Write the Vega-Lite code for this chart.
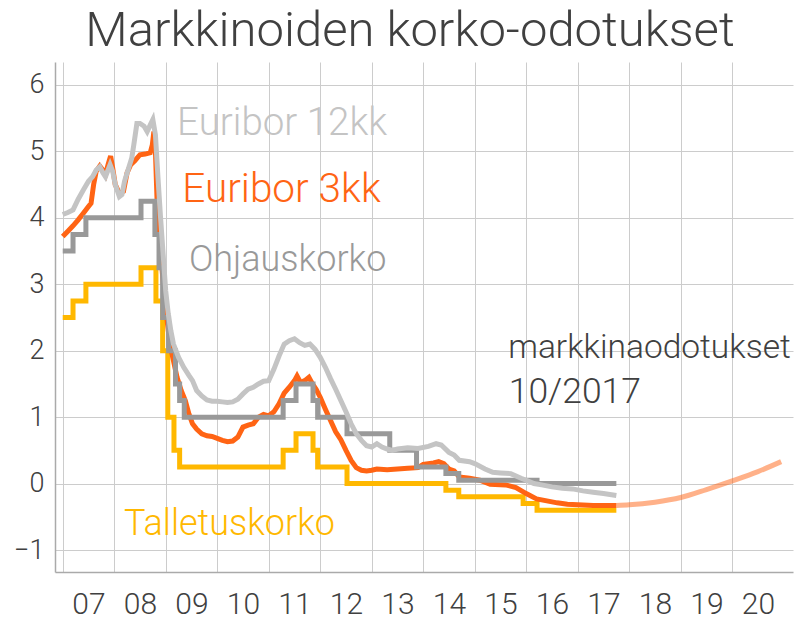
{
  "$schema": "https://vega.github.io/schema/vega-lite/v6.json",
  "width": 738,
  "height": 510,
  "autosize": {"type": "none"},
  "padding": {"left": 55, "top": 62, "right": 3, "bottom": 51},
  "background": "white",
  "config": {
    "view": {"stroke": null},
    "font": "Roboto",
    "axis": {"labelFont": "Roboto", "labelFontWeight": 300, "labelColor": "#404040", "gridColor": "#cccccc", "gridWidth": 1, "domainColor": "#aaaaaa", "domainWidth": 1.5, "ticks": false, "title": null}
  },
  "title": {"text": "Markkinoiden korko-odotukset", "fontSize": 49, "font": "Roboto", "fontWeight": 300, "color": "#404040", "anchor": "middle", "frame": "group", "offset": 6, "dx": -14},
  "datasets": {
    "ohjaus": [
      {"t": 2007.0, "v": 3.5}, {"t": 2007.2, "v": 3.75}, {"t": 2007.45, "v": 4.0}, {"t": 2008.52, "v": 4.25},
      {"t": 2008.79, "v": 3.75}, {"t": 2008.87, "v": 3.25}, {"t": 2008.94, "v": 2.5}, {"t": 2009.055, "v": 2.0},
      {"t": 2009.19, "v": 1.5}, {"t": 2009.27, "v": 1.25}, {"t": 2009.36, "v": 1.0}, {"t": 2011.28, "v": 1.25},
      {"t": 2011.53, "v": 1.5}, {"t": 2011.86, "v": 1.25}, {"t": 2011.95, "v": 1.0}, {"t": 2012.52, "v": 0.75},
      {"t": 2013.35, "v": 0.5}, {"t": 2013.87, "v": 0.25}, {"t": 2014.44, "v": 0.15}, {"t": 2014.69, "v": 0.05},
      {"t": 2016.21, "v": 0.0}, {"t": 2017.75, "v": 0.0}
    ],
    "talletus": [
      {"t": 2007.0, "v": 2.5}, {"t": 2007.2, "v": 2.75}, {"t": 2007.45, "v": 3.0}, {"t": 2008.52, "v": 3.25},
      {"t": 2008.81, "v": 2.75}, {"t": 2008.94, "v": 2.0}, {"t": 2009.04, "v": 1.0}, {"t": 2009.16, "v": 0.5},
      {"t": 2009.27, "v": 0.25}, {"t": 2011.28, "v": 0.5}, {"t": 2011.53, "v": 0.75}, {"t": 2011.86, "v": 0.5},
      {"t": 2011.95, "v": 0.25}, {"t": 2012.52, "v": 0.0}, {"t": 2014.44, "v": -0.1}, {"t": 2014.69, "v": -0.2},
      {"t": 2015.94, "v": -0.3}, {"t": 2016.21, "v": -0.4}, {"t": 2017.75, "v": -0.4}
    ],
    "e3": [
      {"t": 2007.0, "v": 3.72}, {"t": 2007.1, "v": 3.8}, {"t": 2007.2, "v": 3.88}, {"t": 2007.3, "v": 3.97},
      {"t": 2007.4, "v": 4.07}, {"t": 2007.5, "v": 4.17}, {"t": 2007.55, "v": 4.22}, {"t": 2007.6, "v": 4.5},
      {"t": 2007.65, "v": 4.7}, {"t": 2007.72, "v": 4.78}, {"t": 2007.78, "v": 4.72}, {"t": 2007.83, "v": 4.65},
      {"t": 2007.88, "v": 4.8}, {"t": 2007.93, "v": 4.93}, {"t": 2007.97, "v": 4.75}, {"t": 2008.02, "v": 4.5},
      {"t": 2008.1, "v": 4.37}, {"t": 2008.18, "v": 4.4}, {"t": 2008.25, "v": 4.68}, {"t": 2008.32, "v": 4.8},
      {"t": 2008.4, "v": 4.86}, {"t": 2008.5, "v": 4.95}, {"t": 2008.6, "v": 4.96}, {"t": 2008.7, "v": 4.98},
      {"t": 2008.74, "v": 5.1}, {"t": 2008.77, "v": 5.3}, {"t": 2008.8, "v": 5.0}, {"t": 2008.83, "v": 4.3},
      {"t": 2008.87, "v": 3.8}, {"t": 2008.92, "v": 3.3}, {"t": 2008.97, "v": 2.85}, {"t": 2009.02, "v": 2.5},
      {"t": 2009.08, "v": 2.1}, {"t": 2009.15, "v": 1.85}, {"t": 2009.22, "v": 1.6}, {"t": 2009.3, "v": 1.4},
      {"t": 2009.38, "v": 1.25}, {"t": 2009.45, "v": 1.05}, {"t": 2009.52, "v": 0.9}, {"t": 2009.6, "v": 0.82},
      {"t": 2009.7, "v": 0.75}, {"t": 2009.8, "v": 0.72}, {"t": 2009.9, "v": 0.71}, {"t": 2010.0, "v": 0.68},
      {"t": 2010.1, "v": 0.65}, {"t": 2010.2, "v": 0.63}, {"t": 2010.3, "v": 0.64}, {"t": 2010.4, "v": 0.7},
      {"t": 2010.5, "v": 0.85}, {"t": 2010.6, "v": 0.88}, {"t": 2010.7, "v": 0.9}, {"t": 2010.8, "v": 1.0},
      {"t": 2010.9, "v": 1.04}, {"t": 2011.0, "v": 1.02}, {"t": 2011.1, "v": 1.08}, {"t": 2011.2, "v": 1.2},
      {"t": 2011.3, "v": 1.36}, {"t": 2011.4, "v": 1.45}, {"t": 2011.5, "v": 1.55}, {"t": 2011.55, "v": 1.62},
      {"t": 2011.62, "v": 1.52}, {"t": 2011.7, "v": 1.55}, {"t": 2011.78, "v": 1.6}, {"t": 2011.85, "v": 1.5},
      {"t": 2011.92, "v": 1.42}, {"t": 2012.0, "v": 1.3}, {"t": 2012.1, "v": 1.12}, {"t": 2012.2, "v": 0.95},
      {"t": 2012.3, "v": 0.78}, {"t": 2012.4, "v": 0.66}, {"t": 2012.5, "v": 0.5}, {"t": 2012.6, "v": 0.35},
      {"t": 2012.7, "v": 0.24}, {"t": 2012.8, "v": 0.2}, {"t": 2012.9, "v": 0.19}, {"t": 2013.0, "v": 0.2},
      {"t": 2013.1, "v": 0.22}, {"t": 2013.3, "v": 0.21}, {"t": 2013.5, "v": 0.22}, {"t": 2013.7, "v": 0.23},
      {"t": 2013.9, "v": 0.24}, {"t": 2014.0, "v": 0.29}, {"t": 2014.2, "v": 0.31}, {"t": 2014.3, "v": 0.33},
      {"t": 2014.4, "v": 0.3}, {"t": 2014.5, "v": 0.22}, {"t": 2014.6, "v": 0.19}, {"t": 2014.7, "v": 0.1},
      {"t": 2014.9, "v": 0.08}, {"t": 2015.1, "v": 0.05}, {"t": 2015.3, "v": -0.01}, {"t": 2015.6, "v": -0.02},
      {"t": 2015.8, "v": -0.06}, {"t": 2016.0, "v": -0.15}, {"t": 2016.2, "v": -0.23}, {"t": 2016.4, "v": -0.26},
      {"t": 2016.6, "v": -0.29}, {"t": 2016.8, "v": -0.31}, {"t": 2017.0, "v": -0.32}, {"t": 2017.3, "v": -0.33},
      {"t": 2017.75, "v": -0.33}
    ],
    "e12": [
      {"t": 2007.0, "v": 4.05}, {"t": 2007.1, "v": 4.08}, {"t": 2007.2, "v": 4.12}, {"t": 2007.3, "v": 4.28},
      {"t": 2007.4, "v": 4.42}, {"t": 2007.5, "v": 4.55}, {"t": 2007.58, "v": 4.62}, {"t": 2007.65, "v": 4.72},
      {"t": 2007.72, "v": 4.77}, {"t": 2007.78, "v": 4.68}, {"t": 2007.83, "v": 4.62}, {"t": 2007.88, "v": 4.72},
      {"t": 2007.92, "v": 4.8}, {"t": 2007.97, "v": 4.7}, {"t": 2008.02, "v": 4.5}, {"t": 2008.1, "v": 4.32},
      {"t": 2008.15, "v": 4.35}, {"t": 2008.2, "v": 4.55}, {"t": 2008.28, "v": 4.75}, {"t": 2008.34, "v": 4.9},
      {"t": 2008.38, "v": 5.1}, {"t": 2008.44, "v": 5.42}, {"t": 2008.5, "v": 5.42}, {"t": 2008.58, "v": 5.38},
      {"t": 2008.64, "v": 5.3}, {"t": 2008.7, "v": 5.4}, {"t": 2008.75, "v": 5.48}, {"t": 2008.8, "v": 5.25},
      {"t": 2008.85, "v": 4.6}, {"t": 2008.9, "v": 4.0}, {"t": 2008.95, "v": 3.45}, {"t": 2009.0, "v": 2.9},
      {"t": 2009.05, "v": 2.55}, {"t": 2009.1, "v": 2.3}, {"t": 2009.15, "v": 2.1}, {"t": 2009.25, "v": 1.9},
      {"t": 2009.35, "v": 1.75}, {"t": 2009.45, "v": 1.63}, {"t": 2009.52, "v": 1.55}, {"t": 2009.6, "v": 1.4},
      {"t": 2009.7, "v": 1.32}, {"t": 2009.8, "v": 1.26}, {"t": 2009.9, "v": 1.24}, {"t": 2010.0, "v": 1.24},
      {"t": 2010.1, "v": 1.23}, {"t": 2010.2, "v": 1.22}, {"t": 2010.3, "v": 1.23}, {"t": 2010.4, "v": 1.27},
      {"t": 2010.5, "v": 1.35}, {"t": 2010.6, "v": 1.42}, {"t": 2010.7, "v": 1.45}, {"t": 2010.8, "v": 1.5},
      {"t": 2010.9, "v": 1.54}, {"t": 2011.0, "v": 1.55}, {"t": 2011.1, "v": 1.72}, {"t": 2011.2, "v": 1.92},
      {"t": 2011.3, "v": 2.1}, {"t": 2011.4, "v": 2.15}, {"t": 2011.5, "v": 2.18}, {"t": 2011.6, "v": 2.12},
      {"t": 2011.7, "v": 2.08}, {"t": 2011.8, "v": 2.1}, {"t": 2011.9, "v": 2.02}, {"t": 2012.0, "v": 1.9},
      {"t": 2012.1, "v": 1.75}, {"t": 2012.2, "v": 1.58}, {"t": 2012.3, "v": 1.42}, {"t": 2012.4, "v": 1.25},
      {"t": 2012.5, "v": 1.08}, {"t": 2012.6, "v": 0.9}, {"t": 2012.7, "v": 0.75}, {"t": 2012.8, "v": 0.65},
      {"t": 2012.9, "v": 0.57}, {"t": 2013.0, "v": 0.55}, {"t": 2013.1, "v": 0.6}, {"t": 2013.2, "v": 0.55},
      {"t": 2013.3, "v": 0.52}, {"t": 2013.4, "v": 0.5}, {"t": 2013.5, "v": 0.52}, {"t": 2013.7, "v": 0.54},
      {"t": 2013.9, "v": 0.53}, {"t": 2014.1, "v": 0.56}, {"t": 2014.25, "v": 0.6}, {"t": 2014.35, "v": 0.58},
      {"t": 2014.5, "v": 0.47}, {"t": 2014.6, "v": 0.43}, {"t": 2014.7, "v": 0.35}, {"t": 2014.9, "v": 0.33},
      {"t": 2015.0, "v": 0.3}, {"t": 2015.2, "v": 0.22}, {"t": 2015.35, "v": 0.17}, {"t": 2015.5, "v": 0.16},
      {"t": 2015.7, "v": 0.15}, {"t": 2015.9, "v": 0.08}, {"t": 2016.0, "v": 0.05}, {"t": 2016.15, "v": 0.0},
      {"t": 2016.3, "v": -0.02}, {"t": 2016.5, "v": -0.05}, {"t": 2016.7, "v": -0.07}, {"t": 2016.9, "v": -0.08},
      {"t": 2017.1, "v": -0.11}, {"t": 2017.3, "v": -0.13}, {"t": 2017.5, "v": -0.15}, {"t": 2017.75, "v": -0.18}
    ],
    "odotus": [
      {"t": 2017.75, "v": -0.33}, {"t": 2018.0, "v": -0.32}, {"t": 2018.5, "v": -0.28}, {"t": 2019.0, "v": -0.21},
      {"t": 2019.5, "v": -0.09}, {"t": 2020.0, "v": 0.04}, {"t": 2020.5, "v": 0.18}, {"t": 2020.95, "v": 0.33}
    ],
    "labels": [
      {"label": "Euribor 12kk", "t": 2009.22, "v": 5.25},
      {"label": "Euribor 3kk", "t": 2009.32, "v": 4.24},
      {"label": "Ohjauskorko", "t": 2009.45, "v": 3.2},
      {"label": "Talletuskorko", "t": 2008.19, "v": -0.77},
      {"label": "markkinaodotukset", "t": 2015.65, "v": 1.89},
      {"label": "10/2017", "t": 2015.66, "v": 1.21}
    ]
  },
  "encoding": {
    "x": {"field": "t", "type": "quantitative", "scale": {"domain": [2006.85, 2021.18], "nice": false, "zero": false},
          "axis": {"values": [2007, 2008, 2009, 2010, 2011, 2012, 2013, 2014, 2015, 2016, 2017, 2018, 2019, 2020],
                   "labelExpr": "substring(toString(datum.value), 2, 4)", "labelOffset": 25.75, "labelFontSize": 30, "labelPadding": 17, "grid": true}},
    "y": {"field": "v", "type": "quantitative", "scale": {"domain": [-1.331, 6.346], "nice": false, "zero": false},
          "axis": {"values": [-1, 0, 1, 2, 3, 4, 5, 6], "labelFontSize": 27, "labelPadding": 11, "grid": true}}
  },
  "layer": [
    {"data": {"name": "talletus"}, "mark": {"type": "line", "interpolate": "step-after", "color": "#ffb800", "strokeWidth": 5}},
    {"data": {"name": "e3"}, "mark": {"type": "line", "color": "#ff6414", "strokeWidth": 5}},
    {"data": {"name": "ohjaus"}, "mark": {"type": "line", "interpolate": "step-after", "color": "#999999", "strokeWidth": 5}},
    {"data": {"name": "e12"}, "mark": {"type": "line", "color": "#c4c4c4", "strokeWidth": 5}},
    {"data": {"name": "odotus"}, "mark": {"type": "line", "interpolate": "monotone", "color": "#ff6414", "opacity": 0.5, "strokeWidth": 5}},
    {"data": {"name": "labels"},
     "mark": {"type": "text", "align": "left", "baseline": "alphabetic", "font": "Roboto", "fontWeight": 300},
     "encoding": {
       "text": {"field": "label"},
       "size": {"field": "label", "type": "nominal", "legend": null,
                "scale": {"type": "ordinal", "domain": ["Euribor 12kk", "Euribor 3kk", "Ohjauskorko", "Talletuskorko", "markkinaodotukset", "10/2017"], "range": [38.5, 40.5, 36, 36, 33.5, 35.5]}},
       "color": {"field": "label", "type": "nominal", "legend": null,
                 "scale": {"domain": ["Euribor 12kk", "Euribor 3kk", "Ohjauskorko", "Talletuskorko", "markkinaodotukset", "10/2017"], "range": ["#c4c4c4", "#ff6414", "#999999", "#ffb800", "#404040", "#404040"]}}
     }}
  ]
}
